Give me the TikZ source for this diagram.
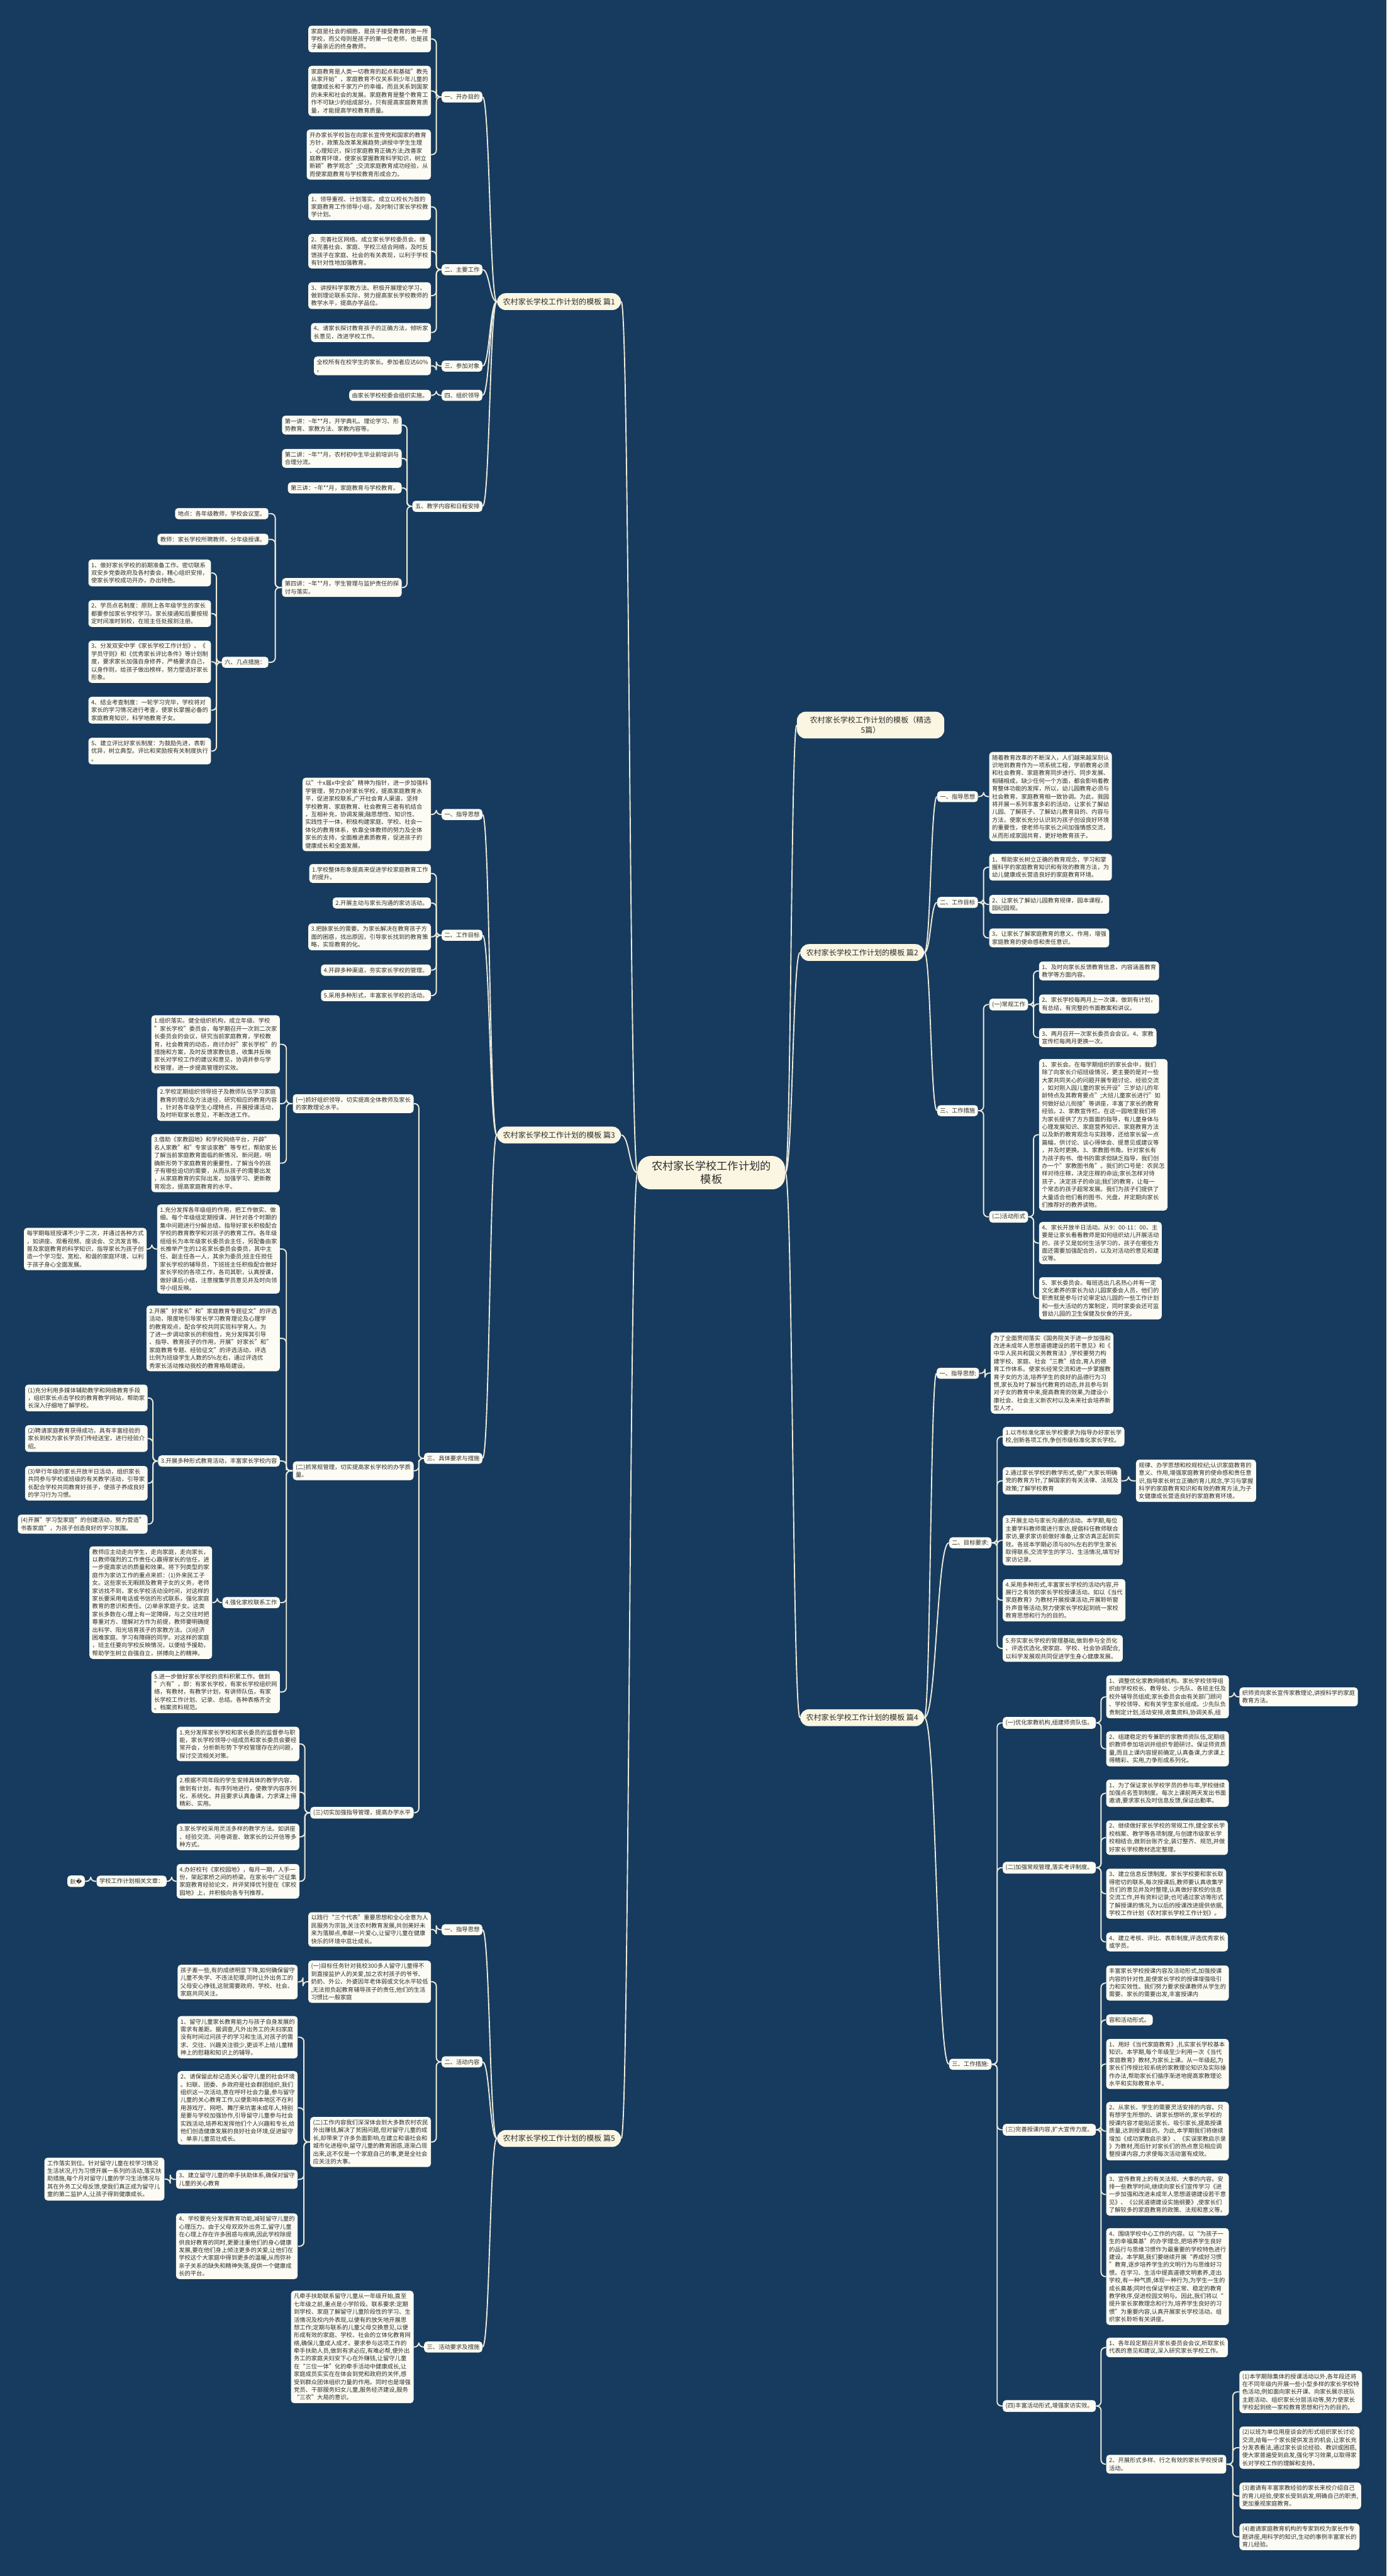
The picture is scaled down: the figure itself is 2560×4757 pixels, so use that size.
\documentclass[tikz,border=0pt]{standalone}
\usepackage{fontspec}
\setmainfont{Noto Sans CJK SC}
\newfontfamily\dvs{DejaVu Sans}
\usetikzlibrary{calc}
\definecolor{bgc}{RGB}{23,59,94}
\definecolor{boxf}{RGB}{252,252,244}
\definecolor{brf}{RGB}{250,246,226}
\definecolor{lnc}{RGB}{236,234,220}
\definecolor{txt}{RGB}{45,45,45}
\newcommand\cL[2]{\coordinate (mm) at ($(#1.west)!0.5!(#2.east)$); \draw[lk] (#1.west) -| (mm) |- (#2.east);}
\newcommand\cR[2]{\coordinate (mm) at ($(#1.east)!0.5!(#2.west)$); \draw[lk] (#1.east) -| (mm) |- (#2.west);}
\newcommand\bL[2]{\coordinate (mm) at ($(#1.west)!0.5!(#2.east)$); \draw[lk] (#1.west) .. controls (mm |- #1.west) and (mm |- #2.east) .. (#2.east);}
\newcommand\bR[2]{\coordinate (mm) at ($(#1.east)!0.5!(#2.west)$); \draw[lk] (#1.east) .. controls (mm |- #1.east) and (mm |- #2.west) .. (#2.west);}
\begin{document}
\begin{tikzpicture}[x=0.5pt,y=-0.5pt,
 box/.style={fill=boxf, rounded corners=3pt, font=\fontsize{5.4pt}{7.2pt}\selectfont, align=left, inner xsep=2.6pt, inner ysep=2.6pt, text=txt},
 L/.style={box, anchor=east},
 R/.style={box, anchor=west},
 br/.style={fill=brf, rounded corners=8pt, font=\fontsize{7pt}{9pt}\selectfont, inner xsep=5.5pt, inner ysep=4.5pt, text=txt, align=center},
 lk/.style={draw=lnc, line width=1.1pt, rounded corners=4pt},
]
\fill[bgc] (0,0) rectangle (2560,4757);
\useasboundingbox (0,0) rectangle (2560,4757);

% ---------- root and branches
\node[br, font=\fontsize{10pt}{12.5pt}\selectfont, minimum width=136pt, minimum height=30.5pt, rounded corners=12pt] (C) at (1313.5,2165.5) {农村家长学校工作计划的\\模板};
\node[br, anchor=east] (B1) at (1147,557) {农村家长学校工作计划的模板 篇1};
\node[br, anchor=east] (B3) at (1147,2096) {农村家长学校工作计划的模板 篇3};
\node[br, anchor=east] (B5) at (1147,3949) {农村家长学校工作计划的模板 篇5};
\node[br, anchor=west, minimum width=136pt] (R0) at (1471,1339) {农村家长学校工作计划的模板（精选\\5篇）};
\node[br, anchor=west] (B2) at (1477,1759) {农村家长学校工作计划的模板 篇2};
\node[br, anchor=west] (B4) at (1477,3172) {农村家长学校工作计划的模板 篇4};

% ---------- 篇1
\node[L] (L1a) at (891,179) {一、开办目的};
\node[L] (L1b) at (891,498) {二、主要工作};
\node[L] (L1c) at (891,676) {三、参加对象};
\node[L] (L1d) at (891,730) {四、组织领导};
\node[L] (L1e) at (891,935) {五、教学内容和日程安排};

\node[L] (a1) at (796,72) {家庭是社会的细胞，是孩子接受教育的第一所\\学校，而父母则是孩子的第一位老师，也是孩\\子最亲近的终身教师。};
\node[L] (a2) at (796,168) {家庭教育是人类一切教育的起点和基础"教先\\从家开始"，家庭教育不仅关系到少年儿童的\\健康成长和千家万户的幸福，而且关系到国家\\的未来和社会的发展。家庭教育是整个教育工\\作不可缺少的组成部分。只有提高家庭教育质\\量，才能提高学校教育质量。};
\node[L] (a3) at (796,285.5) {开办家长学校旨在向家长宣传党和国家的教育\\方针，政策及改革发展趋势;讲授中学生生理\\、心理知识，探讨家庭教育正确方法;改善家\\庭教育环境，使家长掌握教育科学知识，树立\\新颖"教学观念";交流家庭教育成功经验，从\\而使家庭教育与学校教育形成合力。};

\node[L] (b1) at (796,382) {1、领导重视、计划落实。成立以校长为首的\\家庭教育工作领导小组，及时制订家长学校教\\学计划。};
\node[L] (b2) at (796,464) {2、完善社区网络。成立家长学校委员会。继\\续完善社会、家庭、学校三结合网络，及时反\\馈孩子在家庭、社会的有关表现，以利于学校\\有针对性地加强教育。};
\node[L] (b3) at (796,546) {3、讲授科学家教方法。积极开展理论学习，\\做到理论联系实际，努力提高家长学校教师的\\教学水平，提高办学品位。};
\node[L] (b4) at (796,614) {4、请家长探讨教育孩子的正确方法，倾听家\\长意见，改进学校工作。};
\node[L] (c1) at (796,675.5) {全校所有在校学生的家长。参加者应达60\%\\。};
\node[L] (d1) at (796,730) {由家长学校校委会组织实施。};

\node[L] (e1) at (742,785) {第一讲：\textasciitilde 年**月，开学典礼。理论学习、形\\势教育、家教方法、家教内容等。};
\node[L] (e2) at (742,846.5) {第二讲：\textasciitilde 年**月，农村初中生毕业前培训与\\合理分流。};
\node[L] (e3) at (742,901) {第三讲：\textasciitilde 年**月，家庭教育与学校教育。};
\node[L] (e4) at (742,1085) {第四讲：\textasciitilde 年**月，学生管理与监护责任的探\\讨与落实。};
\node[L] (f1) at (496,948.5) {地点：各年级教师，学校会议室。};
\node[L] (f2) at (496,996) {教师：家长学校所聘教师，分年级授课。};
\node[L] (f3) at (496,1223) {六、几点措施：};

\node[L] (g1) at (390,1058) {1、做好家长学校的前期准备工作。密切联系\\双安乡党委政府及各村委会，精心组织安排，\\使家长学校成功开办，办出特色。};
\node[L] (g2) at (390,1133) {2、学员点名制度：原则上各年级学生的家长\\都要参加家长学校学习。家长接通知后要按规\\定时间准时到校，在班主任处报到注册。};
\node[L] (g3) at (390,1222) {3、分发双安中学《家长学校工作计划》、《\\学员守则》和《优秀家长评比条件》等计划制\\度，要求家长加强自身修养，严格要求自己，\\以身作则，给孩子做出榜样，努力塑造好家长\\形象。};
\node[L] (g4) at (390,1311.5) {4、结业考查制度：一轮学习完毕，学校将对\\家长的学习情况进行考查，使家长掌握必备的\\家庭教育知识，科学地教育子女。};
\node[L] (g5) at (390,1387) {5、建立评比好家长制度：为鼓励先进，表彰\\优异，树立典型。评比和奖励按有关制度执行\\。};

% ---------- 篇3
\node[L] (L3a) at (891,1504) {一、指导思想};
\node[L] (L3b) at (891,1727) {二、工作目标};
\node[L] (L3c) at (891,2693) {三、具体要求与措施};

\node[L] (h1) at (796,1504) {以"十x届x中全会"精神为指针，进一步加强科\\学管理，努力办好家长学校，提高家庭教育水\\平，促进家校联系,广开社会育人渠道，坚持\\学校教育、家庭教育、社会教育三者有机结合\\，互相补充，协调发展;融思想性、知识性、\\实践性于一体，积极构建家庭、学校、社会一\\体化的教育体系，依靠全体教师的努力及全体\\家长的支持，全面推进素质教育，促进孩子的\\健康成长和全面发展。};
\node[L] (i1) at (796,1613) {1.学校整体形象提高来促进学校家庭教育工作\\的提升。};
\node[L] (i2) at (796,1667.5) {2.开展主动与家长沟通的家访活动。};
\node[L] (i3) at (796,1730) {3.把脉家长的需要。为家长解决在教育孩子方\\面的困惑，找出原因，引导家长找到的教育策\\略，实现教育的化。};
\node[L] (i4) at (796,1791.5) {4.开辟多种渠道，夯实家长学校的管理。};
\node[L] (i5) at (796,1838.5) {5.采用多种形式，丰富家长学校的活动。};

\node[L] (S31) at (764,2038) {(一)抓好组织领导，切实提高全体教师及家长\\的家教理论水平。};
\node[L] (S32) at (764,2716) {(二)抓常规管理，切实提高家长学校的办学质\\量。};
\node[L] (S33) at (764,3347.5) {(三)切实加强指导管理，提高办学水平};

\node[L] (j1) at (517,1928.5) {1.组织落实。健全组织机构，成立年级、学校\\"家长学校"委员会，每学期召开一次到二次家\\长委员会的会议，研究当前家庭教育，学校教\\育，社会教育的动态，商讨办好"家长学校"的\\措施和方案，及时反馈家教信息，收集并反映\\家长对学校工作的建议和意见，协调并参与学\\校管理，进一步提高管理的实效。};
\node[L] (j2) at (517,2038) {2.学校定期组织领导班子及教师队伍学习家庭\\教育的理论及方法途径，研究相应的教育内容\\，针对各年级学生心理特点，开展授课活动，\\及时听取家长意见，不断改进工作。};
\node[L] (j3) at (517,2148) {3.借助《家教园地》和学校网络平台，开辟"\\名人家教"和"专家谈家教"等专栏，帮助家长\\了解当前家庭教育面临的新情况、新问题，明\\确新形势下家庭教育的重要性，了解当今的孩\\子有哪些迫切的需要，从而从孩子的需要出发\\，从家庭教育的实际出发，加强学习、更新教\\育观念，提高家庭教育的水平。};

\node[L] (k1) at (517,2306.5) {1.充分发挥各年级组的作用，把工作做实、做\\细。每个年级组定期授课，并针对各个时期的\\集中问题进行分解总结，指导好家长积极配合\\学校的教育教学和对孩子的教育工作。各年级\\组组长为本年级家长委员会主任，另配备由家\\长推举产生的12名家长委员会委员，其中主\\任、副主任各一人，其余为委员;班主任担任\\家长学校的辅导员，下班班主任积极配合做好\\家长学校的各项工作，各司其职，认真授课，\\做好课后小结，注意搜集学员意见并及时向领\\导小组反映。};
\node[L] (k1s) at (271,2306.5) {每学期每班授课不少于二次，并通过各种方式\\，如讲座、观看视频、座谈会、交流发言等。\\普及家庭教育的科学知识，指导家长为孩子创\\造一个学习型、宽松、和谐的家庭环境，以利\\于孩子身心全面发展。};
\node[L] (k2) at (517,2471.5) {2.开展"好家长"和"家庭教育专题征文"的评选\\活动，限度地引导家长学习教育理论及心理学\\的教育观点，配合学校共同实现科学育人。为\\了进一步调动家长的积极性，充分发挥其引导\\、指导、教育孩子的作用，开展"好家长"和"\\家庭教育专题、经验征文"的评选活动，评选\\比例为班级学生人数的5\%左右，通过评选优\\秀家长活动推动我校的教育格局建设。};
\node[L] (k3) at (517,2698) {3.开展多种形式教育活动，丰富家长学校内容};
\node[L] (k3a) at (273,2581.5) {(1)充分利用多媒体辅助教学和网络教育手段\\，组织家长点击学校的教育教学网站，帮助家\\长深入仔细地了解学校。};
\node[L] (k3b) at (273,2656.5) {(2)聘请家庭教育获得成功，具有丰富经验的\\家长到校为家长学员们传经送宝，进行经验介\\绍。};
\node[L] (k3c) at (273,2739) {(3)举行年级的家长开放半日活动，组织家长\\共同参与学校或班级的有关教学活动，引导家\\长配合学校共同教育好孩子，使孩子养成良好\\的学习行为习惯。};
\node[L] (k3d) at (273,2814.5) {(4)开展"学习型家庭"的创建活动，努力营造"\\书香家庭"，为孩子创造良好的学习氛围。};
\node[L] (k4) at (517,2959.5) {4.强化家校联系工作};
\node[L] (k4s) at (392,2959.5) {教师应主动走向学生，走向家庭，走向家长，\\以教师强烈的工作责任心赢得家长的信任，进\\一步提高家访的质量和效果。将下列类型的家\\庭作为家访工作的重点来抓：(1)外来民工子\\女。这些家长无暇顾及教育子女的义务，老师\\家访找不到，家长学校活动没时间，对这样的\\家长要采用电话或书信的形式联系，强化家庭\\教育的意识和责任。(2)单亲家庭子女。这类\\家长多数在心理上有一定障碍，与之交往时把\\尊重对方、理解对方作为前提，教师要明确提\\出科学、阳光培育孩子的家教方法。(3)经济\\困难家庭、学习有障碍的同学。对这样的家庭\\，班主任要向学校反映情况，以便给予援助，\\帮助学生树立自强自立，拼搏向上的精神。};
\node[L] (k5) at (517,3124.5) {5.进一步做好家长学校的资料积累工作。做到\\"六有"，即：有家长学校，有家长学校组织网\\络，有教材，有教学计划，有讲师队伍，有家\\长学校工作计划、记录、总结。各种表格齐全\\。档案资料规范。};

\node[L] (l1) at (553,3220.5) {1.充分发挥家长学校和家长委员的监督参与职\\能，家长学校领导小组成员和家长委员会要经\\常开会，分析新形势下学校管理存在的问题，\\探讨交流相关对策。};
\node[L] (l2) at (553,3309.5) {2.根据不同年段的学生安排具体的教学内容，\\做到有计划，有序列地进行，使教学内容序列\\化，系统化。并且要求认真备课，力求课上得\\精彩、实用。};
\node[L] (l3) at (553,3392) {3.家长学校采用灵活多样的教学方法。如讲座\\、经验交流、问卷调查、致家长的公开信等多\\种方式。};
\node[L] (l4) at (553,3474) {4.办好校刊《家校园地》，每月一期，人手一\\份，架起家桥之间的桥梁。在家长中广泛征集\\家庭教育经验论文，并评奖择优刊登在《家校\\园地》上，并积极向各专刊推荐。};
\node[L] (rel) at (308,3474) {学校工作计划相关文章：};
\node[L] (qq) at (157,3474) {鈥{\dvs �}};

% ---------- 篇5
\node[L] (L5a) at (891,3563.5) {一、指导思想};
\node[L] (L5b) at (891,3807.5) {二、活动内容};
\node[L] (L5c) at (891,4334) {三、活动要求及措施};

\node[L] (m1) at (796,3563) {以践行“三个代表”重要思想和全心全意为人\\民服务为宗旨,关注农村教育发展,共创美好未\\来为落脚点,奉献一片爱心,让留守儿童在健康\\快乐的环境中茁壮成长。};
\node[L] (S51) at (796,3659.5) {(一)目标任务针对我校300多人留守儿童得不\\到直接监护人的关爱,加之农村孩子的爷爷、\\奶奶、外公、外婆因年老体弱或文化水平较低\\,无法担负起教育辅导孩子的责任,他们的生活\\习惯比一般家庭};
\node[L] (S51s) at (550,3660) {孩子差一些,有的成绩明显下降,如何确保留守\\儿童不失学、不违法犯罪,同时让外出务工的\\父母安心挣钱,这就需要政府、学校、社会、\\家庭共同关注。};
\node[L] (S52) at (796,3955.5) {(二)工作内容我们深深体会到大多数农村农民\\外出赚钱,解决了贫困问题,但对留守儿童的成\\长,却带来了许多负面影响,在建立和谐社会和\\城市化进程中,留守儿童的教育困惑,逐渐凸现\\出来,这不仅是一个家庭自己的事,更是全社会\\应关注的大事。};
\node[L] (n1) at (550,3762) {1、留守儿童家长教育能力与孩子自身发展的\\需求有差距。据调查,凡外出务工的夫妇家庭\\没有时间过问孩子的学习和生活,对孩子的需\\求、交往、兴趣关注很少,更谈不上给儿童精\\神上的慰藉和知识上的辅导。};
\node[L] (n2) at (550,3892.5) {2、请保留此标记造关心留守儿童的社会环境\\。妇联、团委、乡政府是社会群团组织,我们\\组织这一次活动,意在呼吁社会力量,参与留守\\儿童的关心教育工作,以便影响本地区不在利\\用游戏厅、网吧、舞厅来坑害未成年人,特别\\是要与学校加强协作,引导留守儿童参与社会\\实践活动,培养和发挥他们个人兴趣和专长,给\\他们创造健康发展的良好社会环境,促进留守\\、单亲儿童茁壮成长。};
\node[L] (n3) at (550,4024.5) {3、建立留守儿童的牵手扶助体系,确保对留守\\儿童的关心教育};
\node[L] (n3s) at (304,4024) {工作落实到位。针对留守儿童在校学习情况\\生活状况,行为习惯开展一系列的活动,落实扶\\助措施,每个月对留守儿童的学习生活情况与\\其在外务工父母反馈,使我们真正成为留守儿\\童的第二监护人,让孩子得到健康成长。};
\node[L] (n4) at (550,4148) {4、学校要充分发挥教育功能,减轻留守儿童的\\心理压力。由于父母双双外出务工,留守儿童\\在心理上存在许多困惑与疾病,因此学校除提\\供良好教育的同时,更要注重他们的身心健康\\发展,要在他们身上倾注更多的关爱,让他们在\\学校这个大家庭中得到更多的温暖,从而弥补\\亲子关系的缺失和精神失落,提供一个健康成\\长的平台。};
\node[L] (o1) at (764,4334) {凡牵手扶助联系留守儿童从一年级开始,直至\\七年级之前,重点是小学阶段。联系要求:定期\\到学校、家庭了解留守儿童阶段性的学习、生\\活情况及校内外表现,以便有的放矢地开展思\\想工作;定期与联系的儿童父母交换意见,以便\\形成有效的家庭、学校、社会的立体化教育网\\络,确保儿童成人成才。要求参与这项工作的\\牵手扶助人员,做到有求必应,有难必帮,使外出\\务工的家庭夫妇安下心在外赚钱,让留守儿童\\在“三位一体”化的牵手活动中健康成长,让\\家庭成员实实在在体会到党和政府的关怀,感\\受到群众团体组织力量的作用。同时也是增强\\党员、干部服务妇女儿童,服务经济建设,服务\\“三农”大局的意识。};

% ---------- 篇2
\node[L] (L2a) at (1806,1471) {一、指导思想};
\node[L] (L2b) at (1806,1666.5) {二、工作目标};
\node[L] (L2c) at (1806,2051) {三、工作措施};
\node[R] (p1) at (1826,1471) {随着教育改革的不断深入，人们越来越深刻认\\识地到教育作为一项系统工程，学前教育必须\\和社会教育、家庭教育同步进行、同步发展、\\相辅相成，缺少任何一个方面，都会影响着教\\育整体功能的发挥，所以，幼儿园教育必须与\\社会教育、家庭教育相一致协调。为此，我园\\将开展一系列丰富多彩的活动，让家长了解幼\\儿园、了解孩子、了解幼儿教育目的、内容与\\方法，使家长充分认识到为孩子创设良好环境\\的重要性，使老师与家长之间加强情感交流，\\从而形成家园共育，更好地教育孩子。};
\node[R] (q1) at (1826,1601.5) {1、帮助家长树立正确的教育观念，学习和掌\\握科学的家庭教育知识和有效的教育方法，为\\幼儿健康成长营造良好的家庭教育环境。};
\node[R] (q2) at (1826,1670) {2、让家长了解幼儿园教育规律，园本课程，\\园纪园规。};
\node[R] (q3) at (1826,1732) {3、让家长了解家庭教育的意义、作用，增强\\家庭教育的使命感和责任意识。};
\node[R] (S21) at (1826,1855) {(一)常规工作};
\node[R] (S22) at (1826,2247) {(二)活动形式};
\node[R] (r1) at (1918,1793) {1、及时向家长反馈教育信息，内容涵盖教育\\教学等方面内容。};
\node[R] (r2) at (1918,1854) {2、家长学校每两月上一次课，做到有计划，\\有总结，有完整的书面教案和讲议。};
\node[R] (r3) at (1918,1916) {3、两月召开一次家长委员会会议。4、家教\\宣传栏每两月更换一次。};
\node[R] (s1) at (1918,2095.5) {1、家长会。在每学期组织的家长会中，我们\\除了向家长介绍班级情况，更主要的是对一些\\大家共同关心的问题开展专题讨论、经验交流\\，如对刚入园儿童的家长开设"三岁幼儿的年\\龄特点及其教育要点";大班儿童家长进行"如\\何做好幼儿衔接"等讲座，丰富了家长的教育\\经验。2、家教宣传栏。在这一园地里我们将\\为家长提供了方方面面的指导，有儿童身体与\\心理发展知识、家庭营养知识、家庭教育方法\\以及新的教育观念与实践等，还给家长留一点\\篇幅，供讨论、谈心得体会、提意见或建议等\\，并及时更换。3、家教图书角。针对家长有\\为孩子购书、借书的需求但缺乏指导，我们创\\办一个"家教图书角"。我们的口号是：农民怎\\样对待庄稼，决定庄稼的命运;家长怎样对待\\孩子，决定孩子的命运;我们的教育，让每一\\个常态的孩子超常发展。我们为孩子们提供了\\大量适合他们看的图书、光盘，并定期向家长\\们推荐好的教养读物。};
\node[R] (s2) at (1918,2295.5) {4、家长开放半日活动。从9：00-11：00，主\\要是让家长看看教师是如何组织幼儿开展活动\\的，孩子又是如何生活学习的，孩子在哪些方\\面还需要加强配合的，以及对活动的意见和建\\议等。};
\node[R] (s3) at (1918,2397.5) {5、家长委员会。每班选出几名热心并有一定\\文化素养的家长为幼儿园家委会人员，他们的\\职责就是参与讨论审定幼儿园的一些工作计划\\和一些大活动的方案制定，同时家委会还可监\\督幼儿园的卫生保健及伙食的开支。};

% ---------- 篇4
\node[L] (L4a) at (1808,2536) {一、指导思想:};
\node[L] (L4b) at (1831,2849) {二、目标要求:};
\node[L] (L4c) at (1831,3812) {三、工作措施:};
\node[R] (t1) at (1829,2535.5) {为了全面贯彻落实《国务院关于进一步加强和\\改进未成年人思想道德建设的若干意见》和《\\中华人民共和国义务教育法》,学校要努力构\\建学校、家庭、社会“三教”结合,育人的德\\育工作体系。使家长经常交流和进一步掌握教\\育子女的方法,培养学生的良好的品德行为习\\惯,家长及时了解当代教育的动态,并且参与到\\对子女的教育中来,提高教育的效果,为建设小\\康社会、社会主义新农村以及未来社会培养新\\型人才。};
\node[R] (u1) at (1851,2653) {1.以市标准化家长学校要求为指导办好家长学\\校,创新各项工作,争创市级标准化家长学校。};
\node[R] (u2) at (1851,2734.5) {2.通过家长学校的教学形式,使广大家长明确\\党的教育方针,了解国家的有关法律、法规及\\政策;了解学校教育};
\node[R] (u2s) at (2097,2734.5) {规律、办学思想和校规校纪;认识家庭教育的\\意义、作用,增强家庭教育的使命感和责任意\\识,指导家长树立正确的育儿观念,学习与掌握\\科学的家庭教育知识和有效的教育方法,为子\\女健康成长营造良好的家庭教育环境。};
\node[R] (u3) at (1851,2844.5) {3.开展主动与家长沟通的活动。本学期,每位\\主要学科教师需进行家访,提倡科任教师联合\\家访,要求家访前做好准备,让家访真正起到实\\效。各班本学期必须与80\%左右的学生家长\\取得联系,交流学生的学习、生活情况,填写好\\家访记录。};
\node[R] (u4) at (1851,2955) {4.采用多种形式,丰富家长学校的活动内容,开\\展行之有效的家长学校授课活动。如以《当代\\家庭教育》为教材开展授课活动,开展聆听窗\\外声音等活动,努力使家长学校起到统一家校\\教育思想和行为的目的。};
\node[R] (u5) at (1851,3044) {5.夯实家长学校的管理基础,做到参与全员化\\、评选优选化,使家庭、学校、社会协调配合,\\以科学发展观共同促进学生身心健康发展。};

\node[R] (v1) at (1851,3181.5) {(一)优化家教机构,组建师资队伍。};
\node[R] (v2) at (1851,3449) {(二)加强常规管理,落实考评制度。};
\node[R] (v3) at (1851,3933) {(三)完善授课内容,扩大宣传力度。};
\node[R] (v4) at (1851,4443) {(四)丰富活动形式,增强家访实效。};

\node[R] (w1) at (2042,3133.5) {1、调整优化家教网络机构。家长学校领导组\\织由学校校长、教导处、少先队、各班主任及\\校外辅导员组成;家长委员会由有关部门顾问\\、学校领导、和有关学生家长组成。少先队负\\责制定计划,活动安排,收集资料,协调关系,组};
\node[R] (w1s) at (2288,3133.5) {织师资向家长宣传家教理论,讲授科学的家庭\\教育方法。};
\node[R] (w2) at (2042,3229.5) {2、组建稳定的专兼职的家教师资队伍,定期组\\织教师参加培训并组织专题研讨。保证师资质\\量,而且上课内容提前确定,认真备课,力求课上\\得精彩、实用,力争形成系列化。};

\node[R] (x1) at (2042,3311.5) {1、为了保证家长学校学员的参与率,学校继续\\加强点名签到制度。每次上课前两天发出书面\\邀请,要求家长及时信息反馈,保证出勤率。};
\node[R] (x2) at (2042,3393.5) {2、继续做好家长学校的常规工作,健全家长学\\校档案、教学等各项制度,与创建市级家长学\\校相结合,做到台账齐全,装订整齐、规范,并做\\好家长学校教材选定整理。};
\node[R] (x3) at (2042,3497) {3、建立信息反馈制度。家长学校要和家长取\\得密切的联系,每次授课后,教师要认真收集学\\员们的意见并及时整理,认真做好家校的信息\\交流工作,并有资料记录;也可通过家访等形式\\了解授课的情况,为以后的授课改进提供依据,\\学校工作计划《农村家长学校工作计划》。};
\node[R] (x4) at (2042,3586) {4、建立考核、评比、表彰制度,评选优秀家长\\或学员。};

\node[R] (y1) at (2042,3662) {丰富家长学校授课内容及活动形式,加强授课\\内容的针对性,能使家长学校的授课增强吸引\\力和实效性。我们努力要求授课教师从学生的\\需要、家长的需要出发,丰富授课内};
\node[R] (y2) at (2042,3730) {容和活动形式。};
\node[R] (y3) at (2042,3811.5) {1、用好《当代家庭教育》,扎实家长学校基本\\知识。本学期,每个年级至少利用一次《当代\\家庭教育》教材,为家长上课。从一年级起,为\\家长们传授比较系统的家教理论知识及实际操\\作办法,帮助家长们循序渐进地提高家教理论\\水平和实际教育水平。};
\node[R] (y4) at (2042,3935.5) {2、从家长、学生的需要灵活安排的内容。只\\有想学生所想的、讲家长想听的,家长学校的\\授课内容才能贴近家长、吸引家长,提高授课\\质量,达到授课目的。为此,本学期我们将继续\\增加《成功家教启示录》、《实误家教启示录\\》为教材,而后针对家长们的热点意见相应调\\整授课内容,力求使每次活动富有成效。};
\node[R] (y5) at (2042,4052.5) {3、宣传教育上的有关法规、大事的内容。安\\排一些教学时间,继续向家长们宣传学习《进\\一步加强和改进未成年人思想道德建设若干意\\见》、《公民道德建设实施纲要》,使家长们\\了解较多的家庭教育的政策、法规和意义等。};
\node[R] (y6) at (2042,4204) {4、围绕学校中心工作的内容。以“为孩子一\\生的幸福奠基”的办学理念,把培养学生良好\\的品行与思维习惯作为最重要的学校特色进行\\建设。本学期,我们要继续开展“养成好习惯\\”教育,逐步培养学生的文明行为与思维好习\\惯。在学习、生活中提高道德文明素养,走出\\学校,有一种气质,体现一种行为,为学生一生的\\成长奠基;同时也保证学校正常、稳定的教育\\教学秩序,促进校园文明与。因此,我们将以“\\提升家长家教理念和行为,培养学生良好的习\\惯”为重要内容,认真开展家长学校活动。组\\织家长聆听有关讲座。};

\node[R] (z1) at (2042,4335) {1、各年段定期召开家长委员会会议,听取家长\\代表的意见和建议,深入研究家长学校工作。};
\node[R] (z2) at (2042,4550.5) {2、开展形式多样、行之有效的家长学校授课\\活动。};
\node[R] (z2a) at (2288,4417) {(1)本学期除集体的授课活动以外,各年段还将\\在不同年级内开展一些小型多样的家长学校特\\色活动,例如面向家长开课、向家长展示班队\\主题活动、组织家长分层活动等,努力使家长\\学校起到统一家校教育思想和行为的目的。};
\node[R] (z2b) at (2288,4520) {(2)以班为单位用座谈会的形式组织家长讨论\\交流,给每一个家长提供发言的机会,让家长充\\分发表看法,通过家长谈论经验、教训或困惑,\\使大家普遍受到启发,强化学习效果,以取得家\\长对学校工作的理解和支持。};
\node[R] (z2c) at (2288,4609) {(3)邀请有丰富家教经验的家长来校介绍自己\\的育儿经验,使家长受到启发,明确自己的职责,\\更加重视家庭教育。};
\node[R] (z2d) at (2288,4684.5) {(4)邀请家庭教育机构的专家到校为家长作专\\题讲座,用科学的知识,生动的事例丰富家长的\\育儿经验。};

% ---------- connectors
\begin{scope}[on background layer/.style={}]
\bL{C}{B1} \bL{C}{B3} \bL{C}{B5}
\bR{C}{R0} \bR{C}{B2} \bR{C}{B4}
% 篇1
\bL{B1}{L1a} \bL{B1}{L1b} \bL{B1}{L1c} \bL{B1}{L1d} \bL{B1}{L1e}
\cL{L1a}{a1} \cL{L1a}{a2} \cL{L1a}{a3}
\cL{L1b}{b1} \cL{L1b}{b2} \cL{L1b}{b3} \cL{L1b}{b4}
\cL{L1c}{c1} \cL{L1d}{d1}
\cL{L1e}{e1} \cL{L1e}{e2} \cL{L1e}{e3} \cL{L1e}{e4}
\cL{e4}{f1} \cL{e4}{f2} \cL{e4}{f3}
\cL{f3}{g1} \cL{f3}{g2} \cL{f3}{g3} \cL{f3}{g4} \cL{f3}{g5}
% 篇3
\bL{B3}{L3a} \bL{B3}{L3b} \bL{B3}{L3c}
\cL{L3a}{h1}
\cL{L3b}{i1} \cL{L3b}{i2} \cL{L3b}{i3} \cL{L3b}{i4} \cL{L3b}{i5}
\cL{L3c}{S31} \cL{L3c}{S32} \cL{L3c}{S33}
\cL{S31}{j1} \cL{S31}{j2} \cL{S31}{j3}
\cL{S32}{k1} \cL{S32}{k2} \cL{S32}{k3} \cL{S32}{k4} \cL{S32}{k5}
\cL{k1}{k1s}
\cL{k3}{k3a} \cL{k3}{k3b} \cL{k3}{k3c} \cL{k3}{k3d}
\cL{k4}{k4s}
\cL{S33}{l1} \cL{S33}{l2} \cL{S33}{l3} \cL{S33}{l4}
\cL{l4}{rel} \cL{rel}{qq}
% 篇5
\bL{B5}{L5a} \bL{B5}{L5b} \bL{B5}{L5c}
\cL{L5a}{m1}
\cL{L5b}{S51} \cL{L5b}{S52}
\cL{S51}{S51s}
\cL{S52}{n1} \cL{S52}{n2} \cL{S52}{n3} \cL{S52}{n4}
\cL{n3}{n3s}
\cL{L5c}{o1}
% 篇2
\bR{B2}{L2a} \bR{B2}{L2b} \bR{B2}{L2c}
\cR{L2a}{p1}
\cR{L2b}{q1} \cR{L2b}{q2} \cR{L2b}{q3}
\cR{L2c}{S21} \cR{L2c}{S22}
\cR{S21}{r1} \cR{S21}{r2} \cR{S21}{r3}
\cR{S22}{s1} \cR{S22}{s2} \cR{S22}{s3}
% 篇4
\bR{B4}{L4a} \bR{B4}{L4b} \bR{B4}{L4c}
\cR{L4a}{t1}
\cR{L4b}{u1} \cR{L4b}{u2} \cR{L4b}{u3} \cR{L4b}{u4} \cR{L4b}{u5}
\cR{u2}{u2s}
\cR{L4c}{v1} \cR{L4c}{v2} \cR{L4c}{v3} \cR{L4c}{v4}
\cR{v1}{w1} \cR{v1}{w2} \cR{w1}{w1s}
\cR{v2}{x1} \cR{v2}{x2} \cR{v2}{x3} \cR{v2}{x4}
\cR{v3}{y1} \cR{v3}{y2} \cR{v3}{y3} \cR{v3}{y4} \cR{v3}{y5} \cR{v3}{y6}
\cR{v4}{z1} \cR{v4}{z2}
\cR{z2}{z2a} \cR{z2}{z2b} \cR{z2}{z2c} \cR{z2}{z2d}
\end{scope}
\end{tikzpicture}
\end{document}
